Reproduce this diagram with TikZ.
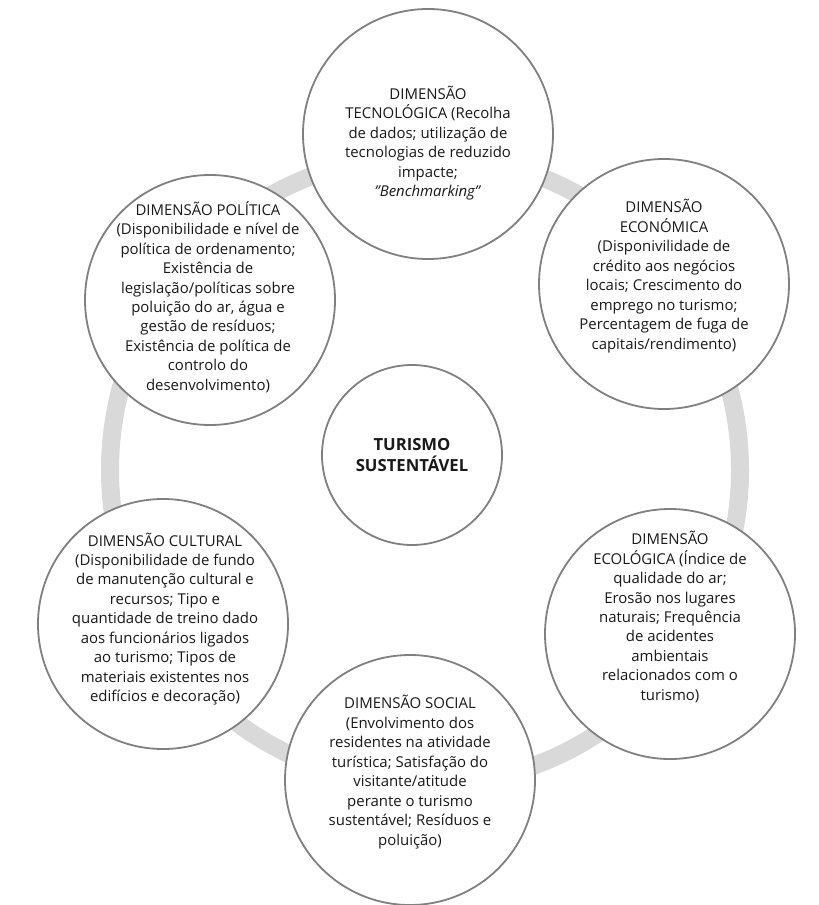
\documentclass[tikz,border=0pt]{standalone}
\usepackage{fontspec}
\setmainfont{Open Sans}
\begin{document}
\begin{tikzpicture}[x=0.75pt,y=-0.75pt,
  ring/.style={draw=black!15,line width=13.5pt},
  dimcircle/.style={circle,draw=black!50,line width=1.35pt,fill=white,minimum size=187.5pt,inner sep=0pt},
  hubcircle/.style={circle,draw=black!50,line width=1.35pt,fill=white,minimum size=135pt,inner sep=0pt},
  dimtext/.style={align=center,text=black!90,font=\fontsize{11.2}{14.6}\selectfont,inner sep=0pt},
  hubtext/.style={align=center,text=black!90,font=\fontsize{12.5}{16}\selectfont\bfseries,inner sep=0pt}]
\useasboundingbox (0,0) rectangle (818,905);
% connecting ring behind the circles
\draw[ring] (425,470) circle[radius=315];
% outer dimension circles
\node[dimcircle] (tec) at (428,134) {};
\node[dimcircle] (eco) at (664,284) {};
\node[dimcircle] (pol) at (210,300) {};
\node[dimcircle] (cul) at (163,624) {};
\node[dimcircle] (soc) at (410,780) {};
\node[dimcircle] (ecl) at (670,634) {};
% central circle
\node[hubcircle] (hub) at (412,455) {};
\node[hubtext] at (hub.center) {TURISMO\\SUSTENTÁVEL};
% texts of the dimensions
\node[dimtext] at (428,143) {DIMENSÃO\\TECNOLÓGICA (Recolha\\de dados; utilização de\\tecnologias de reduzido\\impacte;\\\textit{"Benchmarking"}};
\node[dimtext] at (664,276) {DIMENSÃO\\ECONÓMICA\\(Disponivilidade de\\crédito aos negócios\\locais; Crescimento do\\emprego no turismo;\\Percentagem de fuga de\\capitais/rendimento)};
\node[dimtext] at (208,297) {DIMENSÃO POLÍTICA\\(Disponibilidade e nível de\\política de ordenamento;\\Existência de\\legislação/políticas sobre\\poluição do ar, água e\\gestão de resíduos;\\Existência de política de\\controlo do\\desenvolvimento)};
\node[dimtext] at (165,619) {DIMENSÃO CULTURAL\\(Disponibilidade de fundo\\de manutenção cultural e\\recursos; Tipo e\\quantidade de treino dado\\aos funcionários ligados\\ao turismo; Tipos de\\materiais existentes nos\\edifícios e decoração)};
\node[dimtext] at (670,617) {DIMENSÃO\\ECOLÓGICA (Índice de\\qualidade do ar;\\Erosão nos lugares\\naturais; Frequência\\de acidentes\\ambientais\\relacionados com o\\turismo)};
\node[dimtext] at (410,772) {DIMENSÃO SOCIAL\\(Envolvimento dos\\residentes na atividade\\turística; Satisfação do\\visitante/atitude\\perante o turismo\\sustentável; Resíduos e\\poluição)};
\end{tikzpicture}
\end{document}
